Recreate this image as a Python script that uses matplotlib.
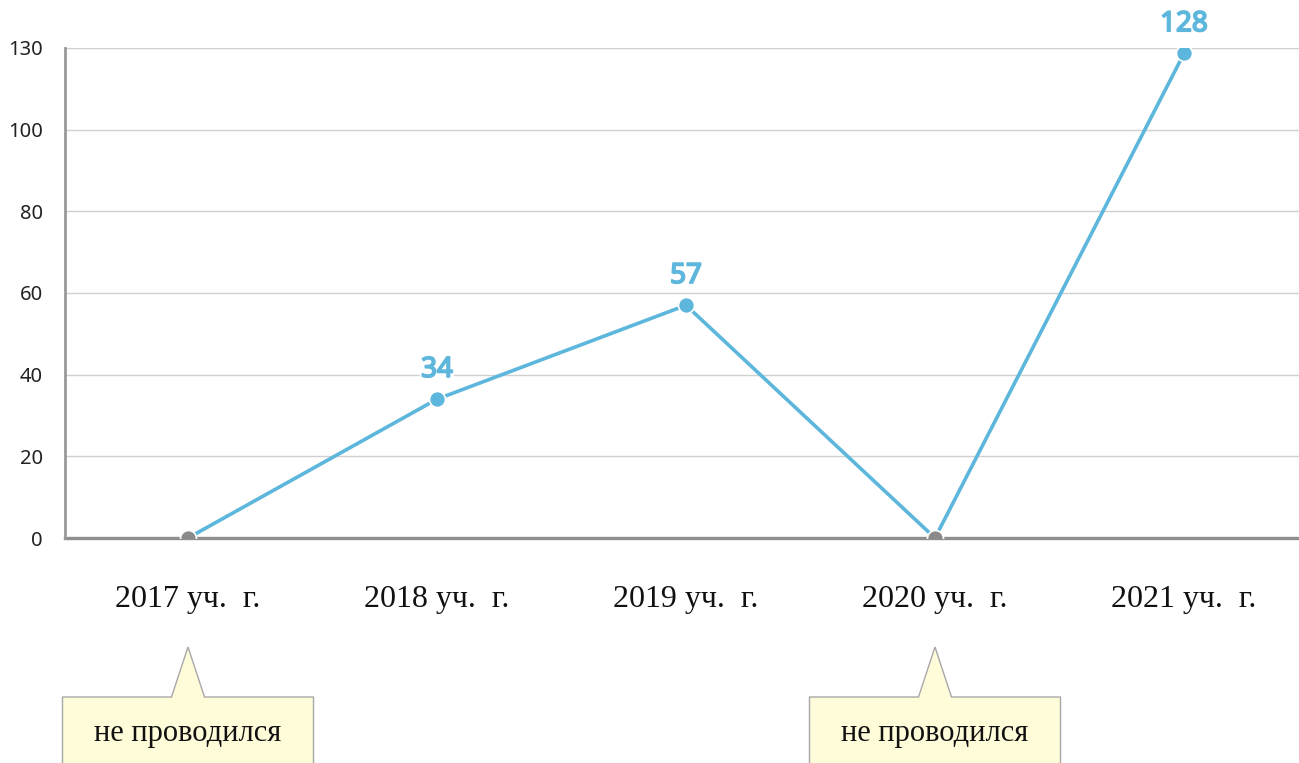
import numpy as np
import matplotlib
matplotlib.use("Agg")
import matplotlib.pyplot as plt
import matplotlib.patheffects as pe
from matplotlib.patches import Polygon
from matplotlib.transforms import blended_transform_factory

categories = ["2017 уч.  г.", "2018 уч.  г.", "2019 уч.  г.", "2020 уч.  г.", "2021 уч.  г."]
values = [0, 34, 57, 0, 128]
held = [False, True, True, False, True]
ytick_values = [0, 20, 40, 60, 80, 100, 130]
note_text = "не проводился"

BLUE = "#5DB6DB"
GRAY = "#8A8A8A"

fig = plt.figure(figsize=(12.99, 7.63), dpi=100)
W, H = 1299, 763
ax = fig.add_axes([65 / W, 1 - 538 / H, 1 - 65 / W, (538 - 48) / H])


def fwd(y):
    y = np.asarray(y, dtype=float)
    return np.where(y <= 100, y, 100 + (y - 100) * 2.0 / 3.0)


def inv(t):
    t = np.asarray(t, dtype=float)
    return np.where(t <= 100, t, 100 + (t - 100) * 1.5)


ax.set_yscale("function", functions=(fwd, inv))
x = np.arange(len(categories))
ax.set_xlim((65 - 188) / 249, (1299 - 188) / 249)
ax.set_ylim(0, 130)

ax.plot(x, values, color=BLUE, lw=2.6, zorder=3, solid_capstyle="round")
for xi, v, h in zip(x, values, held):
    ax.plot(xi, v, "o", ms=11.5, color=BLUE if h else GRAY, mec="white", mew=1.2, zorder=4)
    if h:
        ax.annotate(str(v), (xi, v), xytext=(0, 11), textcoords="offset points",
                    ha="center", va="bottom", fontsize=20,
                    color=BLUE, family="Noto Sans", zorder=5,
                    path_effects=[pe.withStroke(linewidth=1.3, foreground=BLUE)],
                    bbox=dict(facecolor="white", edgecolor="none", pad=1.0))

ax.set_yticks(ytick_values)
ax.set_yticklabels([str(v) for v in ytick_values], family="Noto Sans", fontsize=14.5,
                   color="#222222")
ax.set_xticks(x)
ax.set_xticklabels(categories, family="Liberation Serif", fontsize=23, color="#111111")
ax.tick_params(axis="y", length=0, pad=16)
ax.tick_params(axis="x", length=0, pad=34)

for yv in ytick_values[1:]:
    ax.axhline(yv, color="#D0D0D0", lw=1.0, zorder=1)

for s in ["top", "right"]:
    ax.spines[s].set_visible(False)
ax.spines["left"].set_color("#999999")
ax.spines["left"].set_linewidth(2.0)
ax.spines["bottom"].set_color("#8E8E8E")
ax.spines["bottom"].set_linewidth(2.4)
ax.spines["bottom"].set_zorder(2)

# callouts for years without the event
trans = blended_transform_factory(ax.transData, fig.transFigure)
hw = 125.5 / 249
tb = 16.5 / 249
y_top = 1 - 697 / H
y_tip = 1 - 647 / H
y_bot = -0.05
for xi, v, h in zip(x, values, held):
    if not h:
        pts = [(xi - hw, y_bot), (xi - hw, y_top), (xi - tb, y_top), (xi, y_tip),
               (xi + tb, y_top), (xi + hw, y_top), (xi + hw, y_bot)]
        poly = Polygon(pts, closed=True, transform=trans, facecolor="#FEFCD9",
                       edgecolor="#A8A8A8", lw=1.0, clip_on=False, zorder=1)
        fig.add_artist(poly)
        t = plt.Text(xi, 1 - 733 / H, note_text, transform=trans, ha="center", va="center",
                     family="Liberation Serif", fontsize=22, color="#111111")
        fig.add_artist(t)

fig.savefig("out.png", dpi=100)
